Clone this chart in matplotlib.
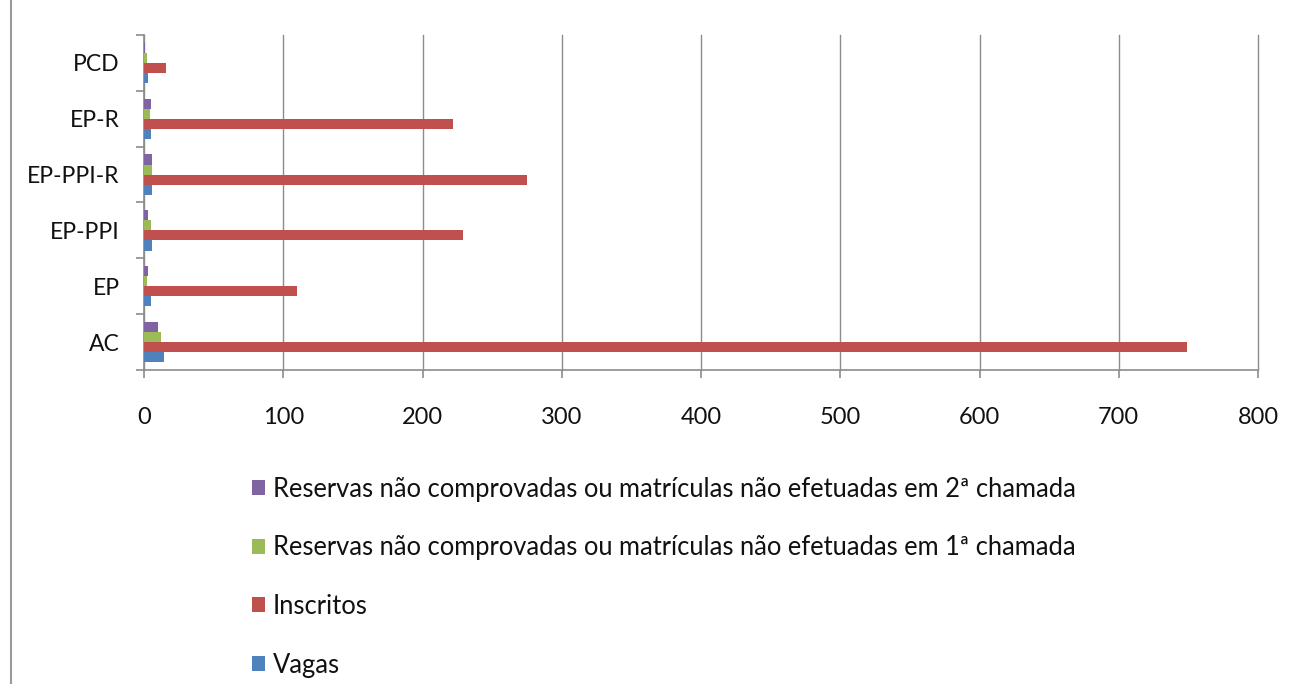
import matplotlib
matplotlib.use('Agg')
import matplotlib.pyplot as plt
import numpy as np
from matplotlib.patches import Patch
from matplotlib.lines import Line2D

plt.rcParams['font.family'] = ['Lato', 'DejaVu Sans']

# Categories (bottom to top) and series values
categories = ['AC', 'EP', 'EP-PPI', 'EP-PPI-R', 'EP-R', 'PCD']
vagas = [14, 5, 6, 6, 5, 3]
inscritos = [749, 110, 229, 275, 222, 16]
res_1a = [12, 2, 5, 6, 4, 2]
res_2a = [10, 3, 3, 6, 5, 1]

series_names = [
    'Vagas',
    'Inscritos',
    'Reservas não comprovadas ou matrículas não efetuadas em 1ª chamada',
    'Reservas não comprovadas ou matrículas não efetuadas em 2ª chamada',
]
series_values = [vagas, inscritos, res_1a, res_2a]
colors = ['#4F81BD', '#C0504D', '#9BBB59', '#8064A2']
axis_gray = '#8c8c8c'

fig = plt.figure(figsize=(12.94, 6.84), dpi=100)
ax = fig.add_axes([0.1113, 0.4591, 0.8609, 0.4897])

y = np.arange(len(categories))
bar_h = 0.18
for i, (vals, col) in enumerate(zip(series_values, colors)):
    ax.barh(y + (i - 1.5) * bar_h, vals, height=bar_h, color=col, zorder=3)

ax.set_xlim(0, 800)
ax.set_ylim(-0.5, len(categories) - 0.5)
ax.set_xticks(np.arange(0, 801, 100))
ax.grid(axis='x', color=axis_gray, linewidth=1.0, zorder=0)
for gl in ax.get_xgridlines():
    gl.set_clip_on(False)
ax.set_axisbelow(True)

ax.set_yticks(y)
ax.set_yticklabels(categories)
ax.set_yticks(np.arange(-0.5, len(categories)), minor=True)
ax.tick_params(axis='y', which='major', length=0, pad=17.5, labelsize=16.5, labelcolor='#111111')
ax.tick_params(axis='y', which='minor', length=6, color=axis_gray, width=1.2)
ax.tick_params(axis='x', length=6, color=axis_gray, width=1.2, pad=21,
               labelsize=17, labelcolor='#111111')

for s in ['top', 'right']:
    ax.spines[s].set_visible(False)
for s in ['left', 'bottom']:
    ax.spines[s].set_color(axis_gray)
    ax.spines[s].set_linewidth(1.2)

# legend listed top to bottom in reverse series order
handles = [Patch(facecolor=c, edgecolor='none') for c in colors[::-1]]
fig.legend(handles, series_names[::-1], loc='upper left',
           bbox_to_anchor=(0.181, 0.3295), frameon=False, fontsize=18.4,
           handlelength=0.52, handleheight=0.52, handletextpad=0.3,
           labelspacing=1.32, labelcolor='#111111', borderpad=0.2)

# thin vertical border line on the left edge
fig.add_artist(Line2D([0.0085, 0.0085], [0, 1], transform=fig.transFigure,
                      color='#9a9a9a', linewidth=1.5))

fig.savefig('out.png', dpi=100, facecolor='white')
